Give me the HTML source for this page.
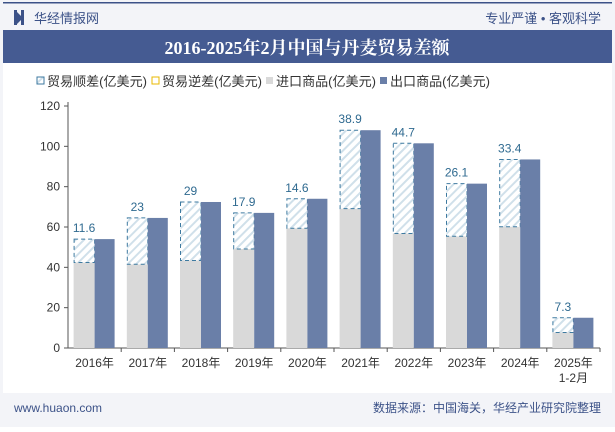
<!DOCTYPE html>
<html><head><meta charset="utf-8">
<style>
body{margin:0;width:615px;height:427px;overflow:hidden;background:#fff;font-family:"Liberation Sans","Noto Sans CJK SC",sans-serif;}
#wrap{position:relative;width:615px;height:427px;background:#fff;}
</style></head>
<body>
<div id="wrap">
<svg id="chart" width="615" height="427" xmlns="http://www.w3.org/2000/svg">
<defs>
<pattern id="hatch" patternUnits="userSpaceOnUse" width="6" height="6" patternTransform="rotate(45)">
<rect width="6" height="6" fill="#fff"/><rect width="2" height="6" fill="#d0e0ea"/>
</pattern>
</defs>
<rect x="0" y="0" width="615" height="427" fill="#f3f4f8"/>
<rect x="3" y="2" width="609" height="1.5" fill="#3c5288"/>
<rect x="14" y="10" width="3" height="15" fill="#3c5288"/><rect x="21" y="10" width="3" height="15" fill="#3c5288"/>
<polygon points="17,12 21,16 21,20 17,24" fill="#3c5288"/>
<text x="34" y="23" font-size="13" fill="#3c5288">华经情报网</text>
<text x="601" y="23" font-size="13" fill="#3c5288" text-anchor="end">专业严谨 • 客观科学</text>
<rect x="3" y="30" width="609" height="33" fill="#455b92"/>
<text x="307" y="54" font-size="18" font-weight="bold" fill="#fff" text-anchor="middle" font-family="'Liberation Serif','Noto Serif CJK SC',serif">2016-2025年2月中国与丹麦贸易差额</text>
<rect x="3" y="63" width="609" height="330" fill="#fff"/>
<g id="legend" font-size="13" fill="#333"></g>
<g id="axes"></g>
<g id="bars"></g>
<rect x="3" y="393" width="609" height="30" fill="#f3f4f8"/>
<text x="14" y="412" font-size="12" fill="#3c5288">www.huaon.com</text>
<text x="601" y="412" font-size="12" fill="#3c5288" text-anchor="end">数据来源：中国海关，华经产业研究院整理</text>
</svg>
</div>
<script>
const categories=["2016年","2017年","2018年","2019年","2020年","2021年","2022年","2023年","2024年","2025年"];
const exportsVals=[54.0,64.5,72.4,67.0,74.0,108.0,101.5,81.5,93.5,15.0];
const surplusVals=[11.6,23,29,17.9,14.6,38.9,44.7,26.1,33.4,7.3];
const yTicks=[0,20,40,60,80,100,120];
const NS="http://www.w3.org/2000/svg";
const X0=68,X1=600,Y0=348,Y1=106,YMAX=120;
const band=(X1-X0)/categories.length;
const y=v=>Y0-(v/YMAX)*(Y0-Y1);
const xc=i=>X0+band*(i+0.5);
function mk(tag,attrs,parent){const e=document.createElementNS(NS,tag);for(const k in attrs)e.setAttribute(k,attrs[k]);parent.appendChild(e);return e;}
const axes=document.getElementById('axes'),bars=document.getElementById('bars'),legend=document.getElementById('legend');
yTicks.forEach(t=>{
  const l=mk('line',{x1:X0-4,x2:X0,y1:y(t),y2:y(t),stroke:'#555'},axes);
  
  
  const tx=mk('text',{x:X0-8,y:y(t)+4,'font-size':12,fill:'#333','text-anchor':'end'},axes);
  tx.textContent=t;
  
  
});
const ya=mk('line',{x1:X0,x2:X0,y1:Y1-4,y2:Y0,stroke:'#555'},axes);


const xa=mk('line',{x1:X0,x2:X1,y1:Y0,y2:Y0,stroke:'#555'},axes);


categories.forEach((c,i)=>{
  const tk=mk('line',{x1:X0+band*(i+1),x2:X0+band*(i+1),y1:Y0,y2:Y0+4,stroke:'#555'},axes);
  
  
  const tx=mk('text',{x:xc(i),y:Y0+19,'font-size':12,fill:'#333','text-anchor':'middle'},axes);
  tx.textContent=c;
  
  
  if(i===categories.length-1){
    const t2=mk('text',{x:xc(i),y:Y0+34,'font-size':12,fill:'#333','text-anchor':'middle'},axes);
    t2.textContent='1-2月';
    
    
  }
  const bw=21, ex=exportsVals[i], im=ex-surplusVals[i];
  const gi=mk('rect',{x:xc(i)-bw,y:y(im),width:bw,height:Y0-y(im),fill:'#d9d9d9'},bars);
  
  
  const sp=mk('rect',{x:xc(i)-bw+0.5,y:y(ex),width:bw-0.5,height:y(im)-y(ex),fill:'url(#hatch)',stroke:'#3e7aa0','stroke-dasharray':'4,3','stroke-width':1},bars);
  
  
  const eb=mk('rect',{x:xc(i),y:y(ex),width:bw-1,height:Y0-y(ex),fill:'#6a7fa8'},bars);
  
  
  const lb=mk('text',{x:xc(i)-bw/2,y:y(ex)-7,'font-size':12,fill:'#2f6a90','text-anchor':'middle'},bars);
  lb.textContent=surplusVals[i];
  
  
});
const legItems=[["贸易顺差(亿美元)",'url(#hatch)','#3e7aa0',37],["贸易逆差(亿美元)",'#fff','#e8b800',152],["进口商品(亿美元)",'#d9d9d9','none',266],["出口商品(亿美元)",'#6a7fa8','none',380]];
legItems.forEach(([t,f,s,x])=>{
  const r=mk('rect',{x:x,y:77,width:7,height:7,fill:f,stroke:s},legend);
  
  
  const tx=mk('text',{x:x+10,y:86,textLength:100,lengthAdjust:'spacingAndGlyphs'},legend);
  tx.textContent=t;
  
  
});
</script>
</body></html>
